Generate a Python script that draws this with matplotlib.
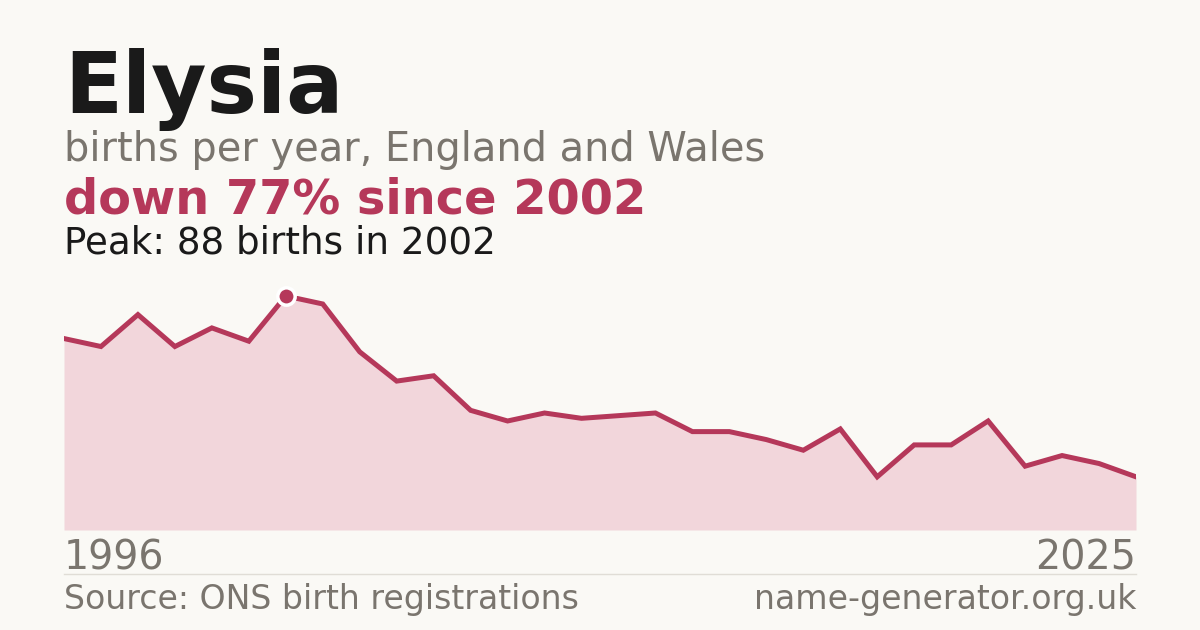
import numpy as np
import matplotlib.pyplot as plt

years = list(range(1996, 2026))
births = [72, 69, 81, 69, 76, 71, 88, 85, 67, 56, 58, 45, 41, 44, 42, 43, 44,
          37, 37, 34, 30, 38, 20, 32, 32, 41, 24, 28, 25, 20]
peak_year = 2002
peak_value = 88

bg = '#faf9f5'
red = '#b5385a'
grey = '#7a756e'

fig = plt.figure(figsize=(12, 6.3), dpi=100, facecolor=bg)

# chart area in pixel terms: x 64..1136, y 296 (peak) .. 530 (zero)
ax = fig.add_axes([64 / 1200, 100 / 630, 1072 / 1200, 234 / 630])
ax.set_facecolor(bg)
ax.fill_between(years, births, 0, color='#f2d6db', lw=0)
ax.plot(years, births, color=red, lw=3.6, solid_joinstyle='miter', zorder=3)
ax.plot([peak_year], [peak_value], 'o', ms=12.5, color=red, mec='white', mew=2.5,
        zorder=4, clip_on=False)
ax.set_xlim(years[0], years[-1])
ax.set_ylim(0, peak_value)
ax.axis('off')

fig.text(64 / 1200, 1 - 113 / 630, 'Elysia', fontsize=61.2, fontweight='bold', color='#1a1a1a', va='baseline')
fig.text(64 / 1200, 1 - 161 / 630, 'births per year, England and Wales', fontsize=28.7, color=grey, va='baseline')
fig.text(64 / 1200, 1 - 214 / 630, 'down 77% since 2002', fontsize=34.5, fontweight='bold', color=red, va='baseline')
fig.text(64 / 1200, 1 - 254 / 630, 'Peak: 88 births in 2002', fontsize=26.8, color='#1a1a1a', va='baseline')

fig.text(64 / 1200, 1 - 570 / 630, str(years[0]), fontsize=28.5, color=grey, va='baseline')
fig.text(1136 / 1200, 1 - 570 / 630, str(years[-1]), fontsize=28.5, color=grey, va='baseline', ha='right')
fig.add_artist(plt.Line2D([64 / 1200, 1136 / 1200], [1 - 574 / 630] * 2, color='#e0ddd6', lw=1))
fig.text(64 / 1200, 1 - 609 / 630, 'Source: ONS birth registrations', fontsize=23.9, color=grey, va='baseline')
fig.text(1136 / 1200, 1 - 609 / 630, 'name-generator.org.uk', fontsize=23.9, color=grey, va='baseline', ha='right')

fig.savefig('out.png', dpi=100, facecolor=bg)
